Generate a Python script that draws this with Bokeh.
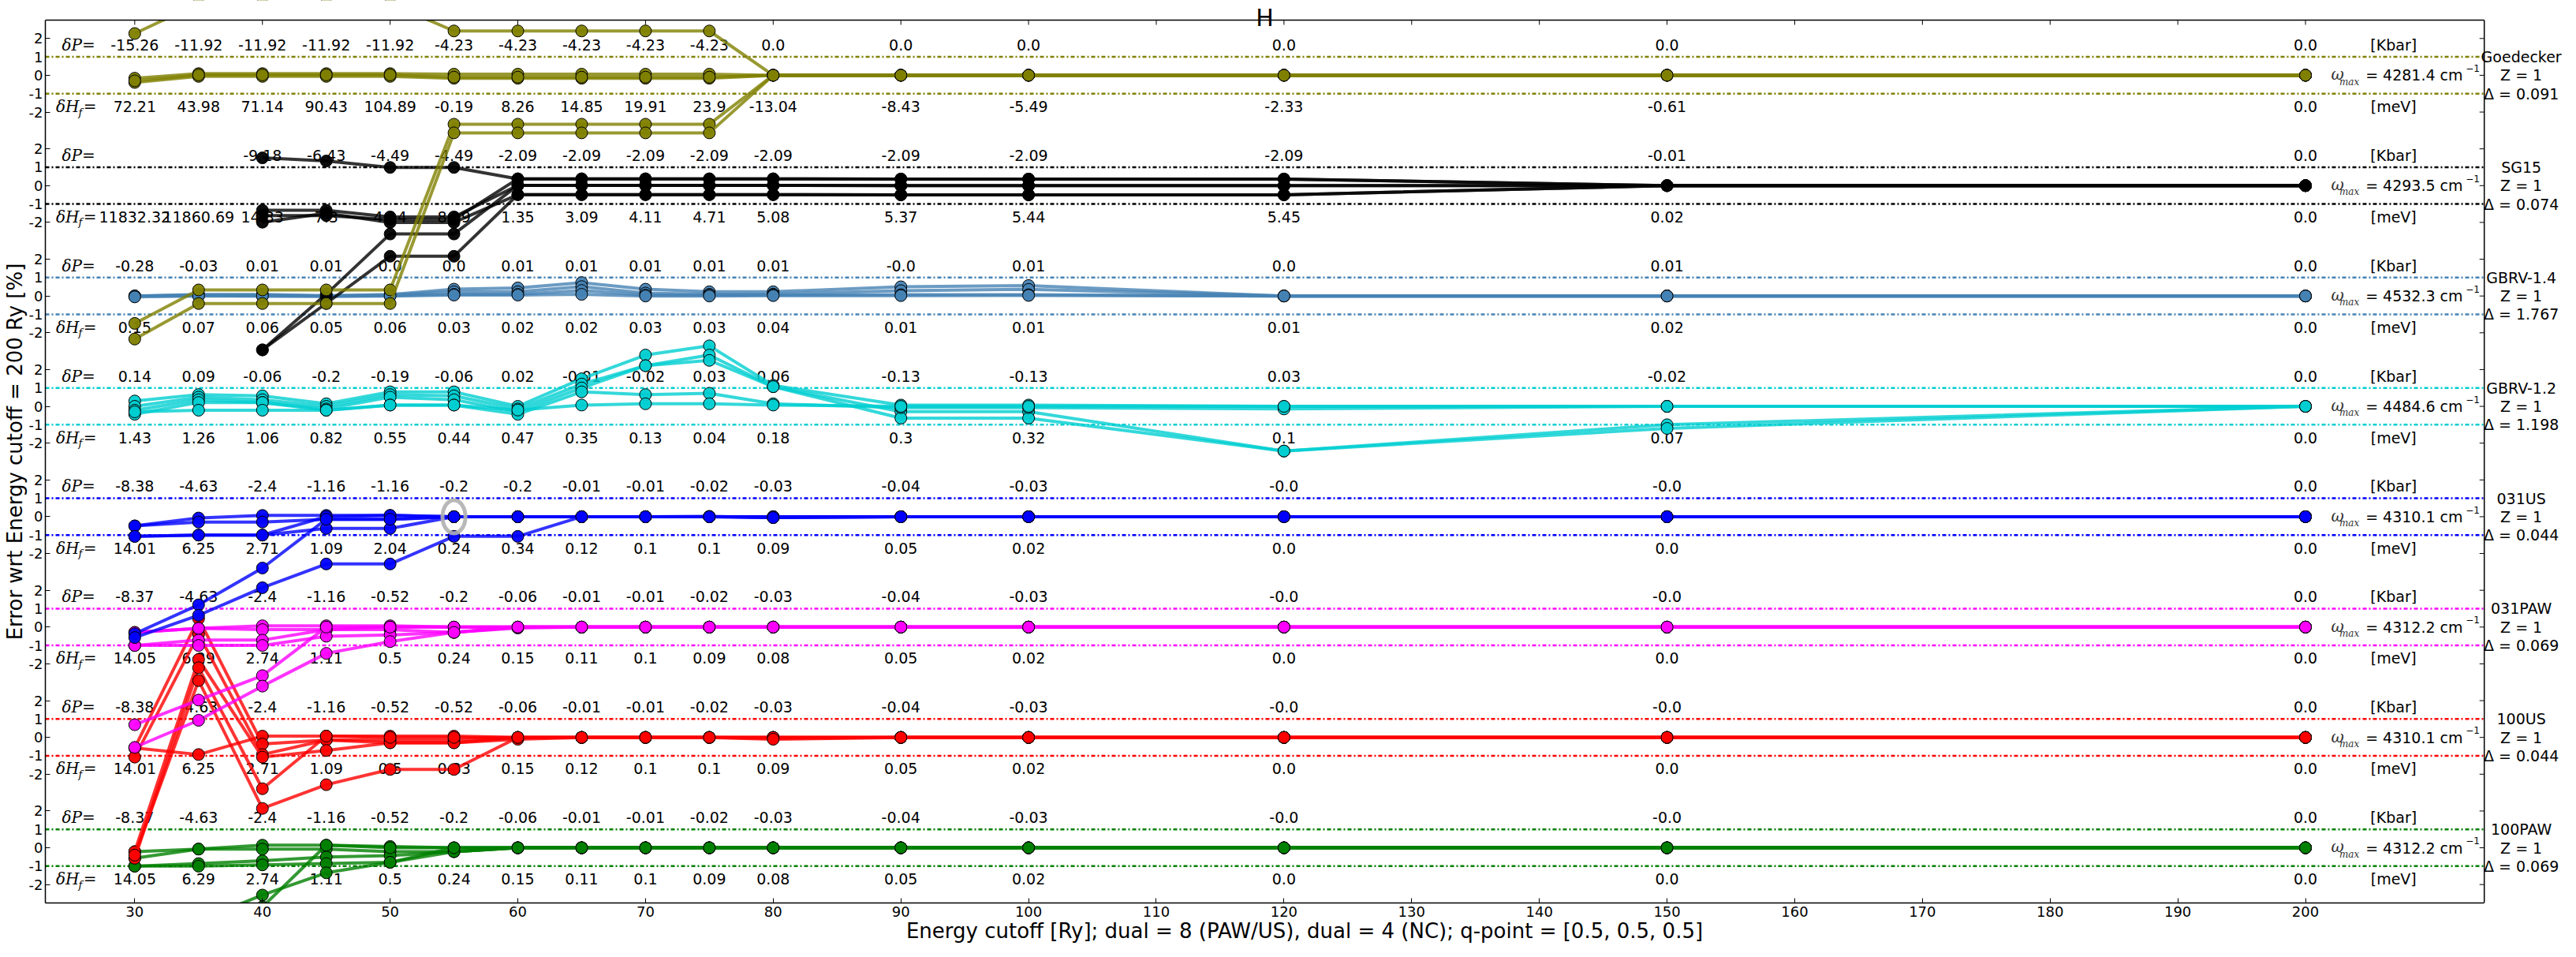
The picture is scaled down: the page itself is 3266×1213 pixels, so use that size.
from bokeh.plotting import figure
from bokeh.models import Range1d, FixedTicker
from bokeh.embed import file_html
from bokeh.resources import INLINE
from bokeh.core.properties import value

nan = float("nan")

# ---------------- data ----------------
cutoffs = [30, 35, 40, 45, 50, 55, 60, 65, 70, 75, 80, 90, 100, 120, 150, 200]
x_ticks = [30, 40, 50, 60, 70, 80, 90, 100, 110, 120, 130, 140, 150, 160, 170, 180, 190, 200]
rel_tick_values = [2, 1, 0, -1, -2]
rel_tick_labels = ["2", "1", "0", "-1", "-2"]

pseudos = ["Goedecker", "SG15", "GBRV-1.4", "GBRV-1.2", "031US", "031PAW", "100US", "100PAW"]
colors = ["#808000", "#000000", "#4682B4", "#00CED1", "#0000FF", "#FF00FF", "#FF0000", "#008000"]
omega_max = ["4281.4", "4293.5", "4532.3", "4484.6", "4310.1", "4312.2", "4310.1", "4312.2"]
z_values = ["1", "1", "1", "1", "1", "1", "1", "1"]
deltas = ["0.091", "0.074", "1.767", "1.198", "0.044", "0.069", "0.044", "0.069"]

goedecker_dP = ["-15.26", "-11.92", "-11.92", "-11.92", "-11.92", "-4.23", "-4.23", "-4.23", "-4.23", "-4.23", "0.0", "0.0", "0.0", "0.0", "0.0", "0.0"]
goedecker_dH = ["72.21", "43.98", "71.14", "90.43", "104.89", "-0.19", "8.26", "14.85", "19.91", "23.9", "-13.04", "-8.43", "-5.49", "-2.33", "-0.61", "0.0"]
goedecker_err = [
    [2.27, 3.9, 3.9, 3.9, 3.9, 2.41, 2.41, 2.41, 2.41, 2.41, 0, 0, 0, 0, 0, 0],
    [-0.16, 0.09, 0.09, 0.09, 0.09, 0.06, 0.06, 0.06, 0.06, 0.06, 0, 0, 0, 0, 0, 0],
    [-0.39, -0.06, -0.06, -0.06, -0.06, -0.16, -0.16, -0.16, -0.16, -0.16, 0, 0, 0, 0, 0, 0],
    [-0.3, 0.02, 0.02, 0.02, 0.02, -0.1, -0.1, -0.1, -0.1, -0.1, 0, 0, 0, 0, 0, 0],
    [-13.49, -11.67, -11.67, -11.67, -11.67, -2.66, -2.66, -2.66, -2.66, -2.66, 0, 0, 0, 0, 0, 0],
    [-14.34, -12.41, -12.41, -12.41, -12.41, -3.13, -3.13, -3.13, -3.13, -3.13, 0, 0, 0, 0, 0, 0],
]

sg15_dP = ["", "", "-9.18", "-6.43", "-4.49", "-4.49", "-2.09", "-2.09", "-2.09", "-2.09", "-2.09", "-2.09", "-2.09", "-2.09", "-0.01", "0.0"]
sg15_dH = ["11832.32", "11860.69", "14.33", "7.3", "4.14", "8.19", "1.35", "3.09", "4.11", "4.71", "5.08", "5.37", "5.44", "5.45", "0.02", "0.0"]
sg15_err = [
    [nan, nan, 1.51, 1.34, 0.99, 0.99, 0.37, 0.37, 0.37, 0.37, 0.37, 0.36, 0.36, 0.36, 0, 0],
    [nan, nan, -1.34, -1.34, -1.7, -1.7, 0.01, 0.01, 0.01, 0.01, 0.01, 0.0, 0.0, 0.0, 0, 0],
    [nan, nan, -1.63, -1.63, -1.84, -1.84, 0.37, 0.37, 0.37, 0.37, 0.37, 0.36, 0.36, 0.36, 0, 0],
    [nan, nan, -1.99, -1.5, -2.0, -2.0, -0.49, -0.49, -0.49, -0.49, -0.49, -0.5, -0.5, -0.5, 0, 0],
    [nan, nan, -8.93, -5.9, -2.63, -2.63, 0.01, 0.01, 0.01, 0.01, 0.01, 0.0, 0.0, 0.0, 0, 0],
    [nan, nan, -8.93, -6.4, -3.84, -3.84, -0.49, -0.49, -0.49, -0.49, -0.49, -0.5, -0.5, -0.5, 0, 0],
]

gbrv14_dP = ["-0.28", "-0.03", "0.01", "0.01", "0.0", "0.0", "0.01", "0.01", "0.01", "0.01", "0.01", "-0.0", "0.01", "0.0", "0.01", "0.0"]
gbrv14_dH = ["0.15", "0.07", "0.06", "0.05", "0.06", "0.03", "0.02", "0.02", "0.03", "0.03", "0.04", "0.01", "0.01", "0.01", "0.02", "0.0"]
gbrv14_err = [
    [0.0, 0.08, 0.08, 0.02, 0.08, 0.37, 0.44, 0.73, 0.37, 0.23, 0.23, 0.5, 0.57, 0, 0, 0],
    [0.0, 0.05, 0.05, 0.0, 0.05, 0.23, 0.23, 0.51, 0.16, 0.09, 0.1, 0.29, 0.36, 0, 0, 0],
    [0.0, 0.02, 0.0, 0.0, 0.02, 0.09, 0.09, 0.3, 0.05, 0.05, 0.05, 0.07, 0.07, 0, 0, 0],
    [-0.05, 0.0, 0.0, -0.02, 0.0, 0.05, 0.05, 0.09, 0.0, 0.0, 0.02, 0.02, 0.03, 0, 0, 0],
]

gbrv12_dP = ["0.14", "0.09", "-0.06", "-0.2", "-0.19", "-0.06", "0.02", "-0.01", "-0.02", "0.03", "0.06", "-0.13", "-0.13", "0.03", "-0.02", "0.0"]
gbrv12_dH = ["1.43", "1.26", "1.06", "0.82", "0.55", "0.44", "0.47", "0.35", "0.13", "0.04", "0.18", "0.3", "0.32", "0.1", "0.07", "0.0"]
gbrv12_err = [
    [0.29, 0.64, 0.57, 0.14, 0.79, 0.79, 0.0, 1.5, 2.79, 3.29, 1.14, 0.07, 0.07, 0.0, 0.0, 0],
    [0.0, 0.5, 0.36, 0.0, 0.64, 0.57, -0.14, 1.21, 2.21, 2.79, 1.07, -0.29, -0.29, -2.43, -1.0, 0],
    [-0.21, 0.36, 0.21, -0.14, 0.5, 0.36, -0.29, 1.0, 2.21, 2.5, 1.07, -0.64, -0.64, -2.43, -1.2, 0],
    [-0.43, 0.21, 0.21, -0.21, 0.07, 0.07, -0.43, 0.79, 0.64, 0.71, 0.14, -0.07, -0.07, -0.14, 0.0, 0],
    [-0.3, -0.21, -0.21, -0.21, 0.07, 0.07, -0.2, 0.07, 0.14, 0.14, 0.07, 0.0, 0.0, 0.0, 0.0, 0],
]

us031_dP = ["-8.38", "-4.63", "-2.4", "-1.16", "-1.16", "-0.2", "-0.2", "-0.01", "-0.01", "-0.02", "-0.03", "-0.04", "-0.03", "-0.0", "-0.0", "0.0"]
us031_dH = ["14.01", "6.25", "2.71", "1.09", "2.04", "0.24", "0.34", "0.12", "0.1", "0.1", "0.09", "0.05", "0.02", "0.0", "0.0", "0.0"]
us031_err = [
    [-0.5, -0.07, 0.07, 0.07, 0.07, 0.0, 0.0, 0.0, 0.0, 0.02, -0.05, 0, 0, 0, 0, 0],
    [-0.5, -0.29, -0.29, -0.14, -0.14, 0.0, 0.0, 0.0, 0.0, 0.0, 0.0, 0, 0, 0, 0, 0],
    [-1.07, -1.0, -1.0, -0.64, -0.64, 0.0, 0.0, 0.0, 0.0, 0.0, -0.03, 0, 0, 0, 0, 0],
    [-1.07, -1.0, -1.0, 0.0, 0.07, 0.0, 0.0, 0.0, 0.0, 0.0, 0.0, 0, 0, 0, 0, 0],
    [-6.36, -4.79, -2.79, -0.14, -0.14, 0.0, 0.0, 0.0, 0.0, 0.0, 0.0, 0, 0, 0, 0, 0],
    [-6.57, -5.36, -3.86, -2.57, -2.57, -1.07, -1.07, 0.0, 0.0, 0.0, -0.05, 0, 0, 0, 0, 0],
]

paw031_dP = ["-8.37", "-4.63", "-2.4", "-1.16", "-0.52", "-0.2", "-0.06", "-0.01", "-0.01", "-0.02", "-0.03", "-0.04", "-0.03", "-0.0", "-0.0", "0.0"]
paw031_dH = ["14.05", "6.29", "2.74", "1.11", "0.5", "0.24", "0.15", "0.11", "0.1", "0.09", "0.08", "0.05", "0.02", "0.0", "0.0", "0.0"]
paw031_err = [
    [-0.29, -0.07, 0.07, 0.07, 0.07, 0.0, 0.0, 0, 0, 0, 0, 0, 0, 0, 0, 0],
    [-0.29, -0.07, -0.14, -0.14, -0.14, -0.29, -0.05, 0, 0, 0, 0, 0, 0, 0, 0, 0],
    [-1.0, -0.71, -0.71, -0.14, 0.0, 0.0, 0.0, 0, 0, 0, 0, 0, 0, 0, 0, 0],
    [-1.0, -1.0, -1.0, -0.5, -0.43, -0.29, 0.0, 0, 0, 0, 0, 0, 0, 0, 0, 0],
    [-5.31, -3.97, -2.64, 0.0, 0.0, 0.0, 0.0, 0, 0, 0, 0, 0, 0, 0, 0, 0],
    [-6.54, -5.07, -3.21, -1.43, -0.79, -0.29, 0.0, 0, 0, 0, 0, 0, 0, 0, 0, 0],
]

us100_dP = ["-8.38", "-4.63", "-2.4", "-1.16", "-0.52", "-0.52", "-0.06", "-0.01", "-0.01", "-0.02", "-0.03", "-0.04", "-0.03", "-0.0", "-0.0", "0.0"]
us100_dH = ["14.01", "6.25", "2.71", "1.09", "0.5", "0.83", "0.15", "0.12", "0.1", "0.1", "0.09", "0.05", "0.02", "0.0", "0.0", "0.0"]
us100_err = [
    [-0.57, -0.93, 0.07, 0.07, 0.07, 0.07, 0.0, 0, 0, 0, 0, 0, 0, 0, 0, 0],
    [-0.57, 6.46, -0.36, -0.14, -0.29, -0.29, 0.0, 0, 0, 0, -0.05, 0, 0, 0, 0, 0],
    [-1.07, 5.61, -0.93, -0.14, -0.14, -0.14, 0.0, 0, 0, 0, 0, 0, 0, 0, 0, 0],
    [-6.21, 4.24, -1.07, -0.71, -0.29, -0.29, -0.1, 0, 0, 0, 0, 0, 0, 0, 0, 0],
    [-6.57, 3.79, -2.79, 0.07, 0.0, 0.0, 0.0, 0, 0, 0, 0, 0, 0, 0, 0, 0],
    [-6.4, 3.09, -3.86, -2.57, -1.74, -1.74, 0.0, 0, 0, 0, -0.1, 0, 0, 0, 0, 0],
]

paw100_dP = ["-8.37", "-4.63", "-2.4", "-1.16", "-0.52", "-0.2", "-0.06", "-0.01", "-0.01", "-0.02", "-0.03", "-0.04", "-0.03", "-0.0", "-0.0", "0.0"]
paw100_dH = ["14.05", "6.29", "2.74", "1.11", "0.5", "0.24", "0.15", "0.11", "0.1", "0.09", "0.08", "0.05", "0.02", "0.0", "0.0", "0.0"]
paw100_err = [
    [-0.21, -0.07, 0.14, 0.14, 0.07, 0.0, 0.0, 0, 0, 0, 0, 0, 0, 0, 0, 0],
    [-0.57, -0.07, -0.07, -0.07, -0.21, -0.21, 0.0, 0, 0, 0, 0, 0, 0, 0, 0, 0],
    [-1.0, -0.86, -0.71, -0.5, -0.43, -0.21, 0.0, 0, 0, 0, 0, 0, 0, 0, 0, 0],
    [-1.0, -1.0, -0.93, -0.86, -0.79, 0.0, 0.0, 0, 0, 0, 0, 0, 0, 0, 0, 0],
    [-5.31, -3.97, -2.57, -1.36, -0.79, -0.21, 0.0, 0, 0, 0, 0, 0, 0, 0, 0, 0],
    [-6.54, -5.07, -3.21, 0.14, 0.0, 0.0, 0.0, 0, 0, 0, 0, 0, 0, 0, 0, 0],
]

highlight_pseudo = "031US"
highlight_cutoff = 55
highlight_error = 0.0

title_text = "H"
x_label = "Energy cutoff [Ry]; dual = 8 (PAW/US), dual = 4 (NC); q-point = [0.5, 0.5, 0.5]"
y_label = "Error wrt Energy cutoff = 200 Ry [%]"

panel_dP = [goedecker_dP, sg15_dP, gbrv14_dP, gbrv12_dP, us031_dP, paw031_dP, us100_dP, paw100_dP]
panel_dH = [goedecker_dH, sg15_dH, gbrv14_dH, gbrv12_dH, us031_dH, paw031_dH, us100_dH, paw100_dH]
panel_err = [goedecker_err, sg15_err, gbrv14_err, gbrv12_err, us031_err, paw031_err, us100_err, paw100_err]

# ---------------- layout ----------------
STEP = 6.0
centers = [-STEP * i for i in range(len(pseudos))]
BOX_X0, BOX_X1 = 23.0, 214.0
BOX_Y0, BOX_Y1 = centers[-1] - 3, centers[0] + 3
PX_X = 16.225           # pixels per x unit
PX_Y = 1120.0 / 48.0    # pixels per y unit
W, H = 3250, 1197
LEFT, BOTTOM = 50, 52
TOP_PAD = 25
X_END = BOX_X0 + (W - LEFT) / PX_X
Y_END = BOX_Y1 + TOP_PAD / PX_Y

FONT = value("DejaVu Sans")
SERIF = value("DejaVu Serif")

p = figure(width=W, height=H, output_backend="svg", toolbar_location=None, title=None,
           x_range=Range1d(BOX_X0, X_END), y_range=Range1d(BOX_Y0, Y_END),
           min_border_left=LEFT, min_border_right=0, min_border_top=0, min_border_bottom=BOTTOM)
p.xgrid.visible = False
p.ygrid.visible = False
p.outline_line_color = None
p.background_fill_color = "white"
p.border_fill_color = "white"

label_ticks, overrides, even_ticks = [], {}, []
for c in centers:
    for v, s in zip(rel_tick_values, rel_tick_labels):
        label_ticks.append(c + v)
        overrides[c + v] = s
        if v % 2 == 0:
            even_ticks.append(c + v)

yax = p.yaxis[0]
yax.ticker = FixedTicker(ticks=label_ticks, minor_ticks=even_ticks)
yax.bounds = (BOX_Y0, BOX_Y1)
yax.major_label_overrides = overrides
yax.major_tick_in = 0
yax.major_tick_out = 0
yax.minor_tick_in = 6
yax.minor_tick_out = 0
yax.minor_tick_line_color = "black"
yax.axis_line_color = "black"
yax.axis_line_width = 1.5
yax.major_label_standoff = 3
yax.major_label_text_font = "DejaVu Sans"
yax.major_label_text_font_size = "18px"
yax.major_label_text_color = "black"
yax.axis_label = y_label
yax.axis_label_standoff = 0
yax.axis_label_text_font = "DejaVu Sans"
yax.axis_label_text_font_style = "normal"
yax.axis_label_text_font_size = "26px"
yax.axis_label_text_color = "black"

xax = p.xaxis[0]
xax.ticker = FixedTicker(ticks=x_ticks, minor_ticks=[])
xax.bounds = (BOX_X0, BOX_X1)
xax.major_tick_in = 6
xax.major_tick_out = 0
xax.major_tick_line_color = "black"
xax.axis_line_color = "black"
xax.axis_line_width = 1.5
xax.major_label_standoff = 4
xax.major_label_text_font = "DejaVu Sans"
xax.major_label_text_font_size = "18px"
xax.major_label_text_color = "black"
xax.axis_label = x_label
xax.axis_label_standoff = 0
xax.axis_label_text_font = "DejaVu Sans"
xax.axis_label_text_font_style = "normal"
xax.axis_label_text_font_size = "26px"
xax.axis_label_text_color = "black"

# dotted tolerance lines
for c, col in zip(centers, colors):
    p.segment(x0=[BOX_X0, BOX_X0], y0=[c + 1, c - 1], x1=[BOX_X1, BOX_X1], y1=[c + 1, c - 1],
              line_color=col, line_width=2.5, line_dash="5 3 2 3")

# texts inside the box
for c, dP, dH in zip(centers, panel_dP, panel_dH):
    p.text(x=cutoffs, y=[c + 1.65] * len(cutoffs), text=dP, text_font=FONT, text_font_size="19px",
           text_align="center", text_baseline="middle", text_color="black")
    p.text(x=cutoffs, y=[c - 1.7] * len(cutoffs), text=dH, text_font=FONT, text_font_size="19px",
           text_align="center", text_baseline="middle", text_color="black")
    p.text(x=[26.9], y=[c + 1.65], text=["\u03b4P="], text_font=SERIF, text_font_style="italic",
           text_font_size="20px", text_align="right", text_baseline="middle", text_color="black")
    p.text(x=[25.65], y=[c - 1.7], text=["\u03b4H"], text_font=SERIF, text_font_style="italic",
           text_font_size="20px", text_align="right", text_baseline="middle", text_color="black")
    p.text(x=[25.6], y=[c - 2.0], text=["f"], text_font=SERIF, text_font_style="italic",
           text_font_size="13px", text_align="left", text_baseline="middle", text_color="black")
    p.text(x=[26.5], y=[c - 1.7], text=["="], text_font=SERIF,
           text_font_size="20px", text_align="center", text_baseline="middle", text_color="black")
    p.text(x=[206.9], y=[c + 1.65], text=["[Kbar]"], text_font=FONT, text_font_size="19px",
           text_align="center", text_baseline="middle", text_color="black")
    p.text(x=[206.9], y=[c - 1.7], text=["[meV]"], text_font=FONT, text_font_size="19px",
           text_align="center", text_baseline="middle", text_color="black")

for c, om in zip(centers, omega_max):
    p.text(x=[202.0], y=[c + 0.05], text=["\u03c9"], text_font=SERIF, text_font_style="italic",
           text_font_size="20px", text_align="left", text_baseline="middle", text_color="#333333")
    p.text(x=[202.65], y=[c - 0.35], text=["max"], text_font=SERIF, text_font_style="italic",
           text_font_size="12px", text_align="left", text_baseline="middle", text_color="#333333")
    p.text(x=[204.7], y=[c], text=["= " + om + " cm"], text_font=FONT, text_font_size="19px",
           text_align="left", text_baseline="middle", text_color="black")
    p.text(x=[212.55], y=[c + 0.38], text=["\u22121"], text_font=FONT, text_font_size="12px",
           text_align="left", text_baseline="middle", text_color="black")

# lines, bottom panel drawn first
for i in list(range(len(pseudos)))[::-1]:
    c, col = centers[i], colors[i]
    for vals in panel_err[i]:
        ys = [c + v for v in vals]
        p.line(cutoffs, ys, line_color=col, line_width=4, line_alpha=0.8)
        p.scatter(cutoffs, ys, marker="circle", size=15, fill_color=col, fill_alpha=0.95,
                  line_color="black", line_width=1)
    if pseudos[i] == highlight_pseudo:
        p.ellipse(x=[highlight_cutoff], y=[c + highlight_error], width=1.8, height=1.8,
                  fill_color=None, line_color="#B0B0B0", line_width=5, line_alpha=0.9)

# white mask above and right of the box (the original clips marks to its axes box)
p.quad(left=[BOX_X0, BOX_X1], right=[X_END, X_END], bottom=[BOX_Y1, BOX_Y0], top=[Y_END, BOX_Y1],
       fill_color="white", line_color=None)

# top and right edges of the box, with inward ticks
p.segment(x0=[BOX_X0, BOX_X1], y0=[BOX_Y1, BOX_Y0], x1=[BOX_X1, BOX_X1], y1=[BOX_Y1, BOX_Y1],
          line_color="black", line_width=1.5)
p.segment(x0=x_ticks, y0=[BOX_Y1] * len(x_ticks), x1=x_ticks, y1=[BOX_Y1 - 6 / PX_Y] * len(x_ticks),
          line_color="black", line_width=1)
p.segment(x0=[BOX_X1] * len(even_ticks), y0=even_ticks, x1=[BOX_X1 - 6 / PX_X] * len(even_ticks), y1=even_ticks,
          line_color="black", line_width=1)

# labels right of the box
for c, name, z, d in zip(centers, pseudos, z_values, deltas):
    p.text(x=[216.9] * 3, y=[c + 1, c, c - 1], text=[name, "Z = " + z, "\u0394 = " + d],
           text_font=FONT, text_font_size="19px", text_align="center", text_baseline="middle",
           text_color="black")

# title
p.text(x=[(BOX_X0 + BOX_X1) / 2], y=[BOX_Y1 + 3 / PX_Y], text=[title_text], text_font=FONT,
       text_font_size="30px", text_align="center", text_baseline="alphabetic", text_color="black")

open("out.html", "w").write(file_html(p, INLINE))
